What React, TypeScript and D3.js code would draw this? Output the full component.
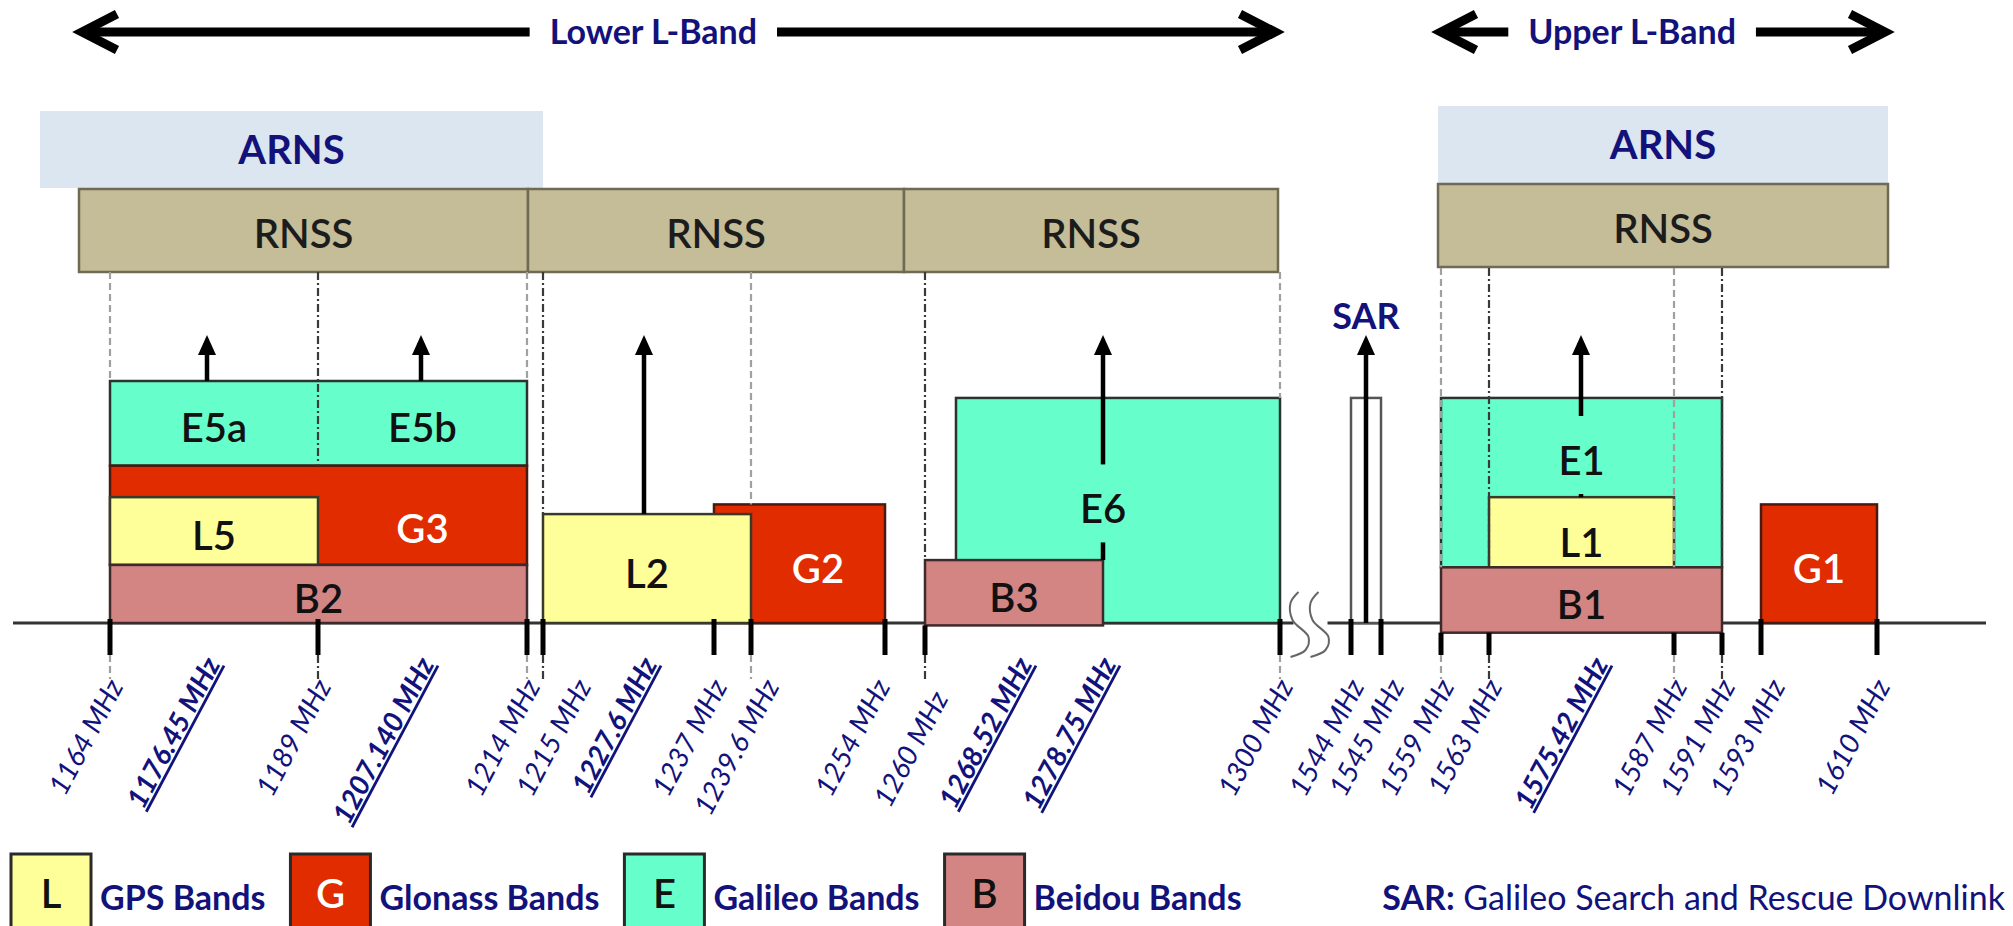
import React, { useEffect, useRef } from 'react';
import * as d3 from 'd3';

const WIDTH = 2013;
const HEIGHT = 926;

// schematic frequency axis: every labelled frequency (MHz) and where it sits
const axisFreqs = [1164, 1176.45, 1189, 1207.14, 1214, 1215, 1227.6, 1237, 1239.6, 1254, 1260, 1268.52, 1278.75, 1300, 1544, 1545, 1559, 1563, 1575.42, 1587, 1591, 1593, 1610];
const axisStops = [110, 207, 318, 421, 527, 543, 644, 714, 751, 885, 925, 1013, 1103, 1280, 1351, 1381, 1441, 1489, 1581, 1674, 1722, 1761, 1877];

// band edges (plain labels) and carrier frequencies (bold, underlined)
const edgeFreqs = [1164, 1189, 1214, 1215, 1237, 1239.6, 1254, 1260, 1300, 1544, 1545, 1559, 1563, 1587, 1591, 1593, 1610];
const carrierLabels = ['1176.45', '1207.140', '1227.6', '1268.52', '1278.75', '1575.42'];

// ITU allocations drawn in the top rows (each row has its own schematic spacing)
const arnsFreqs = [960, 1215, 1559, 1610];
const arnsStops = [40, 543, 1438, 1888];
const rnssFreqs = [1164, 1215, 1260, 1300, 1559, 1610];
const rnssStops = [79, 528, 904, 1278, 1438, 1888];
const allocations = [
  { service: 'ARNS', from: 960, to: 1215, group: 'lower' },
  { service: 'RNSS', from: 1164, to: 1215, group: 'lower' },
  { service: 'RNSS', from: 1215, to: 1260, group: 'lower' },
  { service: 'RNSS', from: 1260, to: 1300, group: 'lower' },
  { service: 'ARNS', from: 1559, to: 1610, group: 'upper' },
  { service: 'RNSS', from: 1559, to: 1610, group: 'upper' },
];
const lBands = [
  { name: 'Lower L-Band', from: 1164, to: 1300, textFreq: 1230 },
  { name: 'Upper L-Band', from: 1559, to: 1610, textFreq: 1581 },
];

// signal bands, relative level 0..100 (drawn in this order)
const bands = [
  { id: 'E5', sys: 'E', from: 1164, to: 1214, lo: 65, hi: 100, label: '' },
  { id: 'G3', sys: 'G', from: 1164, to: 1214, lo: 24, hi: 65, label: 'G3', labelFrom: 1189, labelLevel: 41 },
  { id: 'L5', sys: 'L', from: 1164, to: 1189, lo: 24, hi: 52, label: 'L5' },
  { id: 'B2', sys: 'B', from: 1164, to: 1214, lo: 0, hi: 24, label: 'B2' },
  { id: 'G2', sys: 'G', from: 1237, to: 1254, lo: 0, hi: 49, label: 'G2', labelFrom: 1239.6 },
  { id: 'L2', sys: 'L', from: 1215, to: 1239.6, lo: 0, hi: 45, label: 'L2' },
  { id: 'E6', sys: 'E', from: 1263, to: 1300, lo: 0, hi: 93, label: 'E6', labelFrom: 1278.75, labelTo: 1278.75, labelLevel: 49 },
  { id: 'B3', sys: 'B', from: 1260, to: 1278.75, lo: -1, hi: 26, label: 'B3' },
  { id: 'SAR', sys: 'S', from: 1544, to: 1545, lo: 0, hi: 93, label: '' },
  { id: 'E1', sys: 'E', from: 1559, to: 1591, lo: 23, hi: 93, label: 'E1', labelLevel: 69 },
  { id: 'L1', sys: 'L', from: 1563, to: 1587, lo: 23, hi: 52, label: 'L1', labelLevel: 35 },
  { id: 'B1', sys: 'B', from: 1559, to: 1591, lo: -4, hi: 23, label: 'B1' },
  { id: 'G1', sys: 'G', from: 1593, to: 1610, lo: 0, hi: 49, label: 'G1' },
];
const subLabels = [
  { label: 'E5a', sys: 'E', from: 1164, to: 1189, level: 82.5 },
  { label: 'E5b', sys: 'E', from: 1189, to: 1214, level: 82.5 },
];

// signal arrows: carrier, level they stand on, optional gap for a label
const ARROW_TOP = 119;
const arrows = [
  { f: 1176.45, base: 100 },
  { f: 1207.14, base: 100 },
  { f: 1227.6, base: 45 },
  { f: 1278.75, base: 26, gapAt: 49 },
  { f: 1544.5, base: 0 },
  { f: 1575.42, base: 52, gapAt: 69 },
];

// dashed guides from RNSS row down to the band they mark
const guides = [
  { f: 1164, to: 100, dark: false },
  { f: 1189, to: 65, dark: true },
  { f: 1214, to: 100, dark: false },
  { f: 1215, to: 45, dark: true },
  { f: 1239.6, to: 49, dark: false },
  { f: 1260, to: 26, dark: true },
  { f: 1300, to: 93, dark: false },
  { f: 1559, to: 23, dark: false },
  { f: 1563, to: 23, dark: true },
  { f: 1587, to: 23, dark: false },
  { f: 1591, to: 23, dark: true },
];

const legendKeys = ['L', 'G', 'E', 'B'];
const legendNames = ['GPS Bands', 'Glonass Bands', 'Galileo Bands', 'Beidou Bands'];

const FILL: Record<string, string> = { L: '#ffff99', G: '#e12c00', E: '#66ffcc', B: '#d38583', S: '#ffffff' };
const STROKE: Record<string, string> = { L: '#3a3a2a', G: '#4a1a10', E: '#2a332f', B: '#3e2a2a', S: '#555555' };
const INK: Record<string, string> = { L: '#111111', G: '#ffffff', E: '#111111', B: '#111111', S: '#111111' };
const NAVY = '#12127a';
const FONT = 'Lato, "Open Sans", sans-serif';

// small label nudges where neighbouring labels would collide
const labelNudge: Record<string, [number, number]> = {
  '1215': [35, 0],
  '1239.6': [15, 0],
  '1254': [-8, 0],
  '1260': [10, 12],
  '1545': [10, 0],
  '1593': [11, 0],
  '1268.52': [6, 0],
  '1575.42': [14, 0],
};

export default function App() {
  const svgRef = useRef<SVGSVGElement>(null);

  useEffect(() => {
    document.body.style.margin = '0';
    const svg = d3.select(svgRef.current);
    svg.selectAll('*').remove();

    const x = d3.scaleLinear().domain(axisFreqs).range(axisStops);
    const arnsX = d3.scaleLinear().domain(arnsFreqs).range(arnsStops);
    const rnssX = d3.scaleLinear().domain(rnssFreqs).range(rnssStops);
    const y = d3.scaleLinear().domain([0, 100]).range([623, 381]);
    const axisY = y(0);

    svg.append('rect').attr('width', WIDTH).attr('height', HEIGHT).attr('fill', '#ffffff');

    // L-band double arrows
    const bandArrowY = 32;
    lBands.forEach((b) => {
      const x0 = rnssX(b.from);
      const x1 = rnssX(b.to);
      const tx = rnssX(b.textFreq);
      const t = svg
        .append('text')
        .attr('x', tx)
        .attr('y', bandArrowY + 12)
        .attr('text-anchor', 'middle')
        .attr('font-family', FONT)
        .attr('font-weight', 700)
        .attr('font-size', 34)
        .attr('fill', NAVY)
        .text(b.name);
      const w = (t.node() as SVGTextElement).getComputedTextLength();
      const g = svg.append('g').attr('stroke', '#000').attr('stroke-width', 9).attr('fill', 'none');
      g.append('line').attr('x1', x0 + 4).attr('x2', tx - w / 2 - 20).attr('y1', bandArrowY).attr('y2', bandArrowY);
      g.append('line').attr('x1', tx + w / 2 + 20).attr('x2', x1 - 4).attr('y1', bandArrowY).attr('y2', bandArrowY);
      g.append('polyline').attr('points', `${x0 + 38},${bandArrowY - 18} ${x0 + 3},${bandArrowY} ${x0 + 38},${bandArrowY + 18}`);
      g.append('polyline').attr('points', `${x1 - 38},${bandArrowY - 18} ${x1 - 3},${bandArrowY} ${x1 - 38},${bandArrowY + 18}`);
    });

    // allocation rows
    allocations.forEach((a) => {
      const arns = a.service === 'ARNS';
      const dy = a.group === 'upper' ? -5 : 0;
      const [y0, y1] = arns ? [111 + dy, 188 + dy] : [189 + dy, 272 + dy];
      const sx = arns ? arnsX : rnssX;
      const x0 = sx(a.from);
      const x1 = sx(a.to);
      svg
        .append('rect')
        .attr('x', x0)
        .attr('y', y0)
        .attr('width', x1 - x0)
        .attr('height', y1 - y0)
        .attr('fill', arns ? '#dce6f1' : '#c4bd97')
        .attr('stroke', arns ? 'none' : '#6e6a55')
        .attr('stroke-width', 2.5);
      svg
        .append('text')
        .attr('x', (x0 + x1) / 2)
        .attr('y', (y0 + y1) / 2 + (arns ? 14 : 17))
        .attr('text-anchor', 'middle')
        .attr('font-family', FONT)
        .attr('font-weight', arns ? 700 : 600)
        .attr('font-size', 40)
        .attr('fill', arns ? NAVY : '#1c1c1c')
        .text(a.service);
    });

    // frequency axis with a break between the two L-band halves
    const breakX = (x(1300) + x(1544)) / 2 - 5;
    svg
      .append('g')
      .attr('stroke', '#333')
      .attr('stroke-width', 3)
      .selectAll('line')
      .data([[13, breakX - 17], [breakX + 17, 1986]])
      .join('line')
      .attr('x1', (d) => d[0])
      .attr('x2', (d) => d[1])
      .attr('y1', axisY)
      .attr('y2', axisY);

    const squiggle = d3
      .line<[number, number]>()
      .curve(d3.curveCatmullRom)
      .x((d) => d[0])
      .y((d) => d[1]);
    const sShape: [number, number][] = [[0, -31], [-8, -20], [-6, -3], [10, 14], [7, 27], [-8, 34]];
    [breakX - 12, breakX + 8].forEach((cx) => {
      svg
        .append('path')
        .attr('d', squiggle(sShape.map(([dx, dy]) => [cx + dx, axisY + dy] as [number, number])))
        .attr('fill', 'none')
        .attr('stroke', '#666')
        .attr('stroke-width', 2);
    });

    // signal bands
    bands.forEach((b) => {
      const x0 = x(b.from);
      const x1 = x(b.to);
      svg
        .append('rect')
        .attr('x', x0)
        .attr('y', y(b.hi))
        .attr('width', x1 - x0)
        .attr('height', y(b.lo) - y(b.hi))
        .attr('fill', FILL[b.sys])
        .attr('stroke', STROKE[b.sys])
        .attr('stroke-width', 2.5);
    });

    // dashed guides
    guides.forEach((gd) => {
      const gx = x(gd.f);
      const style = (sel: d3.Selection<SVGLineElement, unknown, null, undefined>) =>
        sel
          .attr('stroke', gd.dark ? '#3a3a3a' : '#a0a0a0')
          .attr('stroke-width', 2.2)
          .attr('stroke-dasharray', gd.dark ? '8,3,2,3' : '7,4');
      const top = gd.f > 1500 ? 268 : 272;
      svg.append('line').attr('x1', gx).attr('x2', gx).attr('y1', top).attr('y2', y(gd.to)).call(style);
      svg.append('line').attr('x1', gx).attr('x2', gx).attr('y1', axisY + 32).attr('y2', axisY + 56).call(style);
    });

    // arrows for the carriers
    arrows.forEach((a) => {
      const axp = x(a.f);
      const tip = y(ARROW_TOP);
      const base = y(a.base);
      const segs: [number, number][] = a.gapAt !== undefined
        ? [[tip + 12, y(a.gapAt) - 40], [y(a.gapAt) + 38, base]]
        : [[tip + 12, base]];
      segs.forEach(([s0, s1]) => {
        svg
          .append('line')
          .attr('x1', axp)
          .attr('x2', axp)
          .attr('y1', s0)
          .attr('y2', s1)
          .attr('stroke', '#000')
          .attr('stroke-width', 4.5);
      });
      svg
        .append('path')
        .attr('d', `M${axp},${tip} L${axp - 9},${tip + 20} L${axp + 9},${tip + 20} Z`)
        .attr('fill', '#000');
    });
    svg
      .append('text')
      .attr('x', x(1544.5))
      .attr('y', y(ARROW_TOP) - 6)
      .attr('text-anchor', 'middle')
      .attr('font-family', FONT)
      .attr('font-weight', 700)
      .attr('font-size', 36)
      .attr('fill', NAVY)
      .text('SAR');

    // band labels
    const bandText = (label: string, sys: string, cx: number, cy: number) =>
      svg
        .append('text')
        .attr('x', cx)
        .attr('y', cy + 5 + 14)
        .attr('text-anchor', 'middle')
        .attr('font-family', FONT)
        .attr('font-weight', 600)
        .attr('font-size', 40)
        .attr('fill', INK[sys])
        .text(label);
    bands
      .filter((b) => b.label)
      .forEach((b) => {
        const lx = (x(b.labelFrom ?? b.from) + x(b.labelTo ?? b.to)) / 2;
        const ly = y(b.labelLevel ?? (b.lo + b.hi) / 2);
        bandText(b.label, b.sys, lx, ly);
      });
    subLabels.forEach((s) => bandText(s.label, s.sys, (x(s.from) + x(s.to)) / 2, y(s.level)));

    // ticks
    edgeFreqs.forEach((f) => {
      const below = bands.filter((b) => b.lo < 0 && b.from <= f && b.to >= f);
      const y0 = below.length ? y(d3.min(below, (b) => b.lo) as number) : axisY - 4;
      svg
        .append('line')
        .attr('x1', x(f))
        .attr('x2', x(f))
        .attr('y1', y0)
        .attr('y2', axisY + 32)
        .attr('stroke', '#000')
        .attr('stroke-width', 5);
    });

    // rotated frequency labels
    const freqLabel = (key: string, fx: number, bold: boolean) => {
      const [nx, ny] = labelNudge[key] ?? [0, 0];
      const ex = fx + 14 + nx;
      const ey = (bold ? 664 : 686) + ny;
      svg
        .append('text')
        .attr('transform', `translate(${ex},${ey}) rotate(-62)`)
        .attr('text-anchor', 'end')
        .attr('font-family', FONT)
        .attr('font-style', 'italic')
        .attr('font-weight', bold ? 700 : 400)
        .attr('font-size', 28)
        .attr('text-decoration', bold ? 'underline' : 'none')
        .attr('fill', NAVY)
        .text(`${key} MHz`);
    };
    edgeFreqs.forEach((f) => freqLabel(String(f), x(f), false));
    carrierLabels.forEach((c) => freqLabel(c, x(parseFloat(c)), true));

    // legend
    const legY = 854;
    let lx = 11;
    legendKeys.forEach((k, i) => {
      svg
        .append('rect')
        .attr('x', lx)
        .attr('y', legY)
        .attr('width', 80)
        .attr('height', 90)
        .attr('fill', FILL[k])
        .attr('stroke', '#2a2a2a')
        .attr('stroke-width', 3);
      svg
        .append('text')
        .attr('x', lx + 40)
        .attr('y', 908)
        .attr('text-anchor', 'middle')
        .attr('font-family', FONT)
        .attr('font-weight', 600)
        .attr('font-size', 40)
        .attr('fill', INK[k])
        .text(k);
      const t = svg
        .append('text')
        .attr('x', lx + 89)
        .attr('y', 910)
        .attr('font-family', FONT)
        .attr('font-weight', 700)
        .attr('font-size', 34)
        .attr('fill', NAVY)
        .text(legendNames[i]);
      lx += 89 + (t.node() as SVGTextElement).getComputedTextLength() + 25;
    });
    const sar = svg
      .append('text')
      .attr('x', 2005)
      .attr('y', 910)
      .attr('text-anchor', 'end')
      .attr('font-family', FONT)
      .attr('font-size', 34)
      .attr('fill', NAVY);
    sar.append('tspan').attr('font-weight', 700).text('SAR:');
    sar.append('tspan').text(' Galileo Search and Rescue Downlink');
  }, []);

  return <svg ref={svgRef} width={WIDTH} height={HEIGHT} style={{ display: 'block' }} />;
}
